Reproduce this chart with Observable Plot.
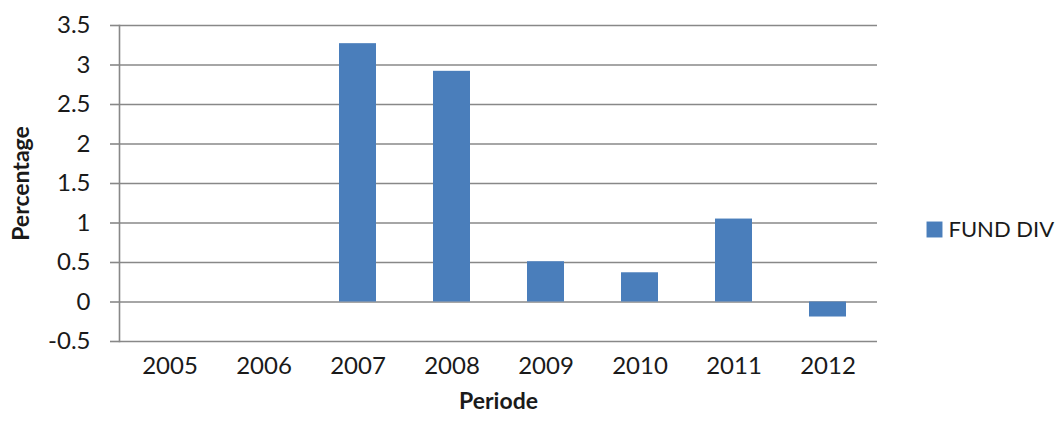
<!DOCTYPE html>
<html>
<head>
<meta charset="utf-8">
<script src="https://cdn.jsdelivr.net/npm/d3@7"></script>
<script src="https://cdn.jsdelivr.net/npm/@observablehq/plot@0.6"></script>
<style>
  html, body { margin: 0; padding: 0; background: #fff; }
  #wrap { width: 1064px; height: 421px; }
  #wrap svg { display: block; }
</style>
</head>
<body>
<div id="wrap"></div>
<script>
const years = ["2005", "2006", "2007", "2008", "2009", "2010", "2011", "2012"];
const fundDiv = [0, 0, 3.27, 2.92, 0.51, 0.37, 1.05, -0.19];
const yTicks = [-0.5, 0, 0.5, 1, 1.5, 2, 2.5, 3, 3.5];
const seriesName = "FUND DIV";

const data = years.map((y, i) => ({year: y, value: fundDiv[i]}));
const gridColor = "#888888";
const barColor = "#4a7ebb";
const font = "Lato, 'Open Sans', sans-serif";

const chart = Plot.plot({
  width: 1064,
  height: 421,
  marginLeft: 119,
  marginRight: 187,
  marginTop: 25,
  marginBottom: 80,
  style: {fontFamily: font, fontSize: "24px", color: "#1a1a1a", background: "#fff"},
  x: {domain: years, paddingInner: 0.61, paddingOuter: 0.305, label: null},
  y: {domain: [-0.5, 3.5], label: null},
  marks: [
    Plot.gridY(yTicks, {stroke: gridColor, strokeOpacity: 1, strokeWidth: 1.6}),
    Plot.barY(data, {x: "year", y: "value", fill: barColor}),
    Plot.axisY(yTicks, {tickSize: 9, tickPadding: 20, stroke: gridColor, strokeWidth: 1.6, tickFormat: d => String(d), label: null, fill: "#1a1a1a", fontSize: 24}),
    Plot.frame({anchor: "left", stroke: gridColor, strokeWidth: 1.6}),
    Plot.axisX({tickSize: 0, tickPadding: 15, label: null, fill: "#1a1a1a", fontSize: 24}),
    Plot.text(["Percentage"], {frameAnchor: "left", dx: -98, rotate: -90, textAnchor: "middle", fontSize: 23, fontWeight: "bold", fill: "#1a1a1a"}),
    Plot.text(["Periode"], {frameAnchor: "bottom", dy: 67, textAnchor: "middle", fontSize: 23, fontWeight: "bold", fill: "#1a1a1a"}),
    Plot.dot([seriesName], {frameAnchor: "right", dx: 57, dy: 46, symbol: "square", r: 9, fill: barColor, stroke: null}),
    Plot.text([seriesName], {frameAnchor: "right", dx: 71, dy: 46, textAnchor: "start", fontSize: 22, fill: "#1a1a1a", text: d => d})
  ]
});

document.getElementById("wrap").appendChild(chart);
</script>
</body>
</html>
